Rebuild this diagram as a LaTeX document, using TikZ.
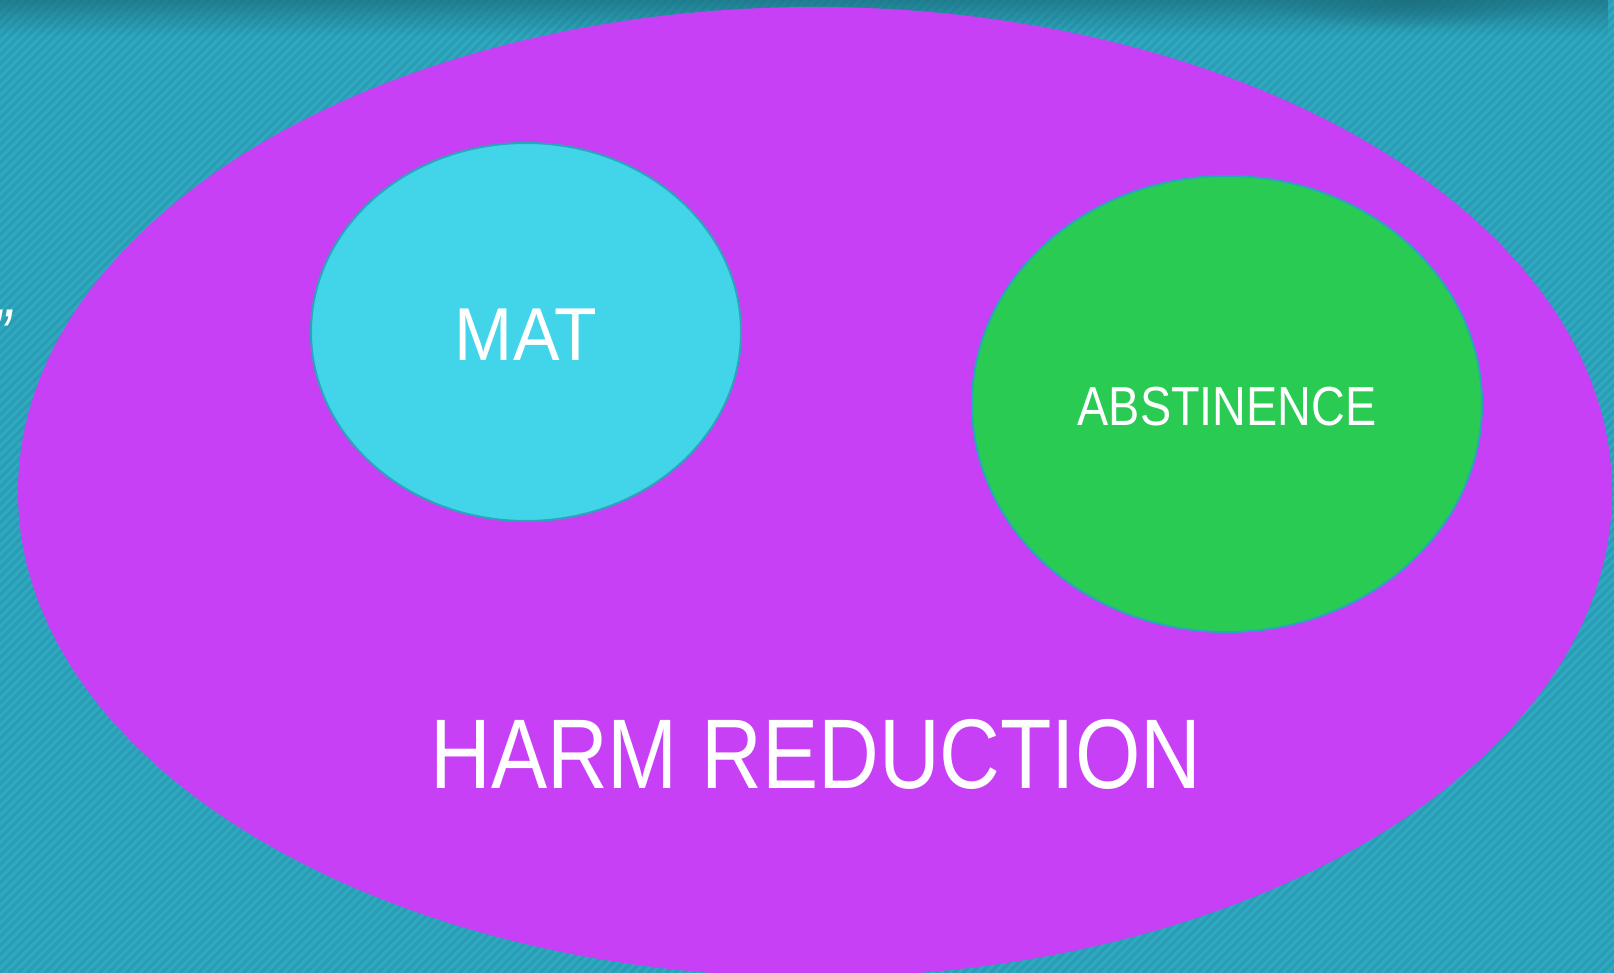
\documentclass[tikz,border=0pt]{standalone}
\usepackage{fontspec}
\setmainfont{Liberation Sans}[FakeStretch=0.85]
\newfontfamily\matfont{Liberation Sans}[FakeStretch=0.93]
\usetikzlibrary{shapes.geometric,fadings}
\definecolor{bgteal}{HTML}{2FA9C1}
\definecolor{stripeteal}{HTML}{2A9CB3}
\definecolor{shadowteal}{HTML}{1B6E7E}
\definecolor{harmpurple}{HTML}{C840F5}
\definecolor{matcyan}{HTML}{42D5EA}
\definecolor{abgreen}{HTML}{2ACB52}
\definecolor{rimteal}{HTML}{2AA6BC}
\tikzfading[name=fadedown, top color=transparent!0, bottom color=transparent!100]
\tikzfading[name=softblob, inner color=transparent!0, outer color=transparent!100]
\tikzset{
  stripe/.style={stripeteal, line width=3pt},
  inner/.style={ellipse, draw=rimteal, line width=2pt, inner sep=0pt, text=white},
  outer/.style={ellipse, fill=harmpurple, inner sep=0pt},
  label/.style={text=white, inner sep=0pt}
}
\begin{document}
\begin{tikzpicture}[x=1pt,y=-1pt]
  \useasboundingbox (0,0) rectangle (1614,973);
  \fill[bgteal] (0,0) rectangle (1614,973);
  \begin{scope}
    \clip (0,0) rectangle (1614,973);
    \foreach \i in {-990,-981,...,1620} {
      \draw[stripe] (\i,973) -- ++(973,-973);
    }
    \fill[shadowteal, path fading=fadedown, opacity=0.7] (0,0) rectangle (1614,36);
    \fill[shadowteal, path fading=softblob, opacity=0.8] (1410,0) ellipse (150pt and 28pt);
  \end{scope}
  \node[outer, minimum width=1594pt, minimum height=970pt] (harm) at (815,492) {};
  \node[inner, fill=matcyan, minimum width=430pt, minimum height=378pt] (mat) at (526,332) {};
  \node[inner, fill=abgreen, minimum width=510pt, minimum height=456pt] (abs) at (1227,404) {};
  \node[label, font=\matfont\fontsize{75}{75}\selectfont] (mattext) at (526,335) {MAT};
  \node[label, font=\fontsize{55}{55}\selectfont] (abstext) at (1227,407) {ABSTINENCE};
  \node[label, font=\fontsize{99}{99}\selectfont] (harmtext) at (816,754) {HARM REDUCTION};
  \node[label, font=\itshape\fontsize{72}{72}\selectfont, anchor=north east] (quote) at (11,310) {”};
\end{tikzpicture}
\end{document}
